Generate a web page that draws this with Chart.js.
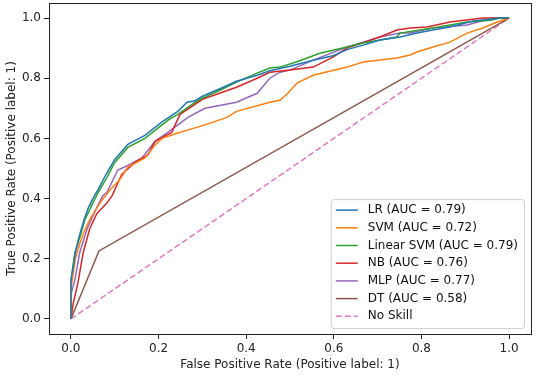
<!DOCTYPE html>
<html>
<head>
<meta charset="utf-8">
<script src="https://cdn.jsdelivr.net/npm/chart.js@4.4.1/dist/chart.umd.min.js"></script>
<style>
  html, body { margin: 0; padding: 0; background: #fff; }
  canvas { display: block; }
</style>
</head>
<body>
<canvas id="roc" width="540" height="377"></canvas>
<script>
// ROC curves (fpr, tpr)
const lrFpr = [0, 0, 0.005, 0.01, 0.02, 0.03, 0.04, 0.05, 0.062, 0.08, 0.10, 0.13, 0.169, 0.208, 0.244, 0.265, 0.283, 0.30, 0.34, 0.378, 0.425, 0.454, 0.50, 0.553, 0.598, 0.63, 0.667, 0.705, 0.751, 0.79, 0.826, 0.865, 0.918, 0.95, 0.98, 1];
const lrTpr = [0, 0.13, 0.17, 0.22, 0.28, 0.33, 0.37, 0.40, 0.43, 0.48, 0.53, 0.58, 0.61, 0.655, 0.69, 0.72, 0.725, 0.74, 0.765, 0.79, 0.81, 0.825, 0.84, 0.86, 0.875, 0.895, 0.91, 0.927, 0.937, 0.95, 0.96, 0.97, 0.99, 0.995, 1, 1];

const svmFpr = [0, 0, 0.005, 0.01, 0.02, 0.03, 0.043, 0.066, 0.09, 0.11, 0.13, 0.169, 0.192, 0.208, 0.244, 0.283, 0.306, 0.356, 0.378, 0.454, 0.477, 0.495, 0.516, 0.553, 0.63, 0.667, 0.744, 0.774, 0.79, 0.826, 0.865, 0.904, 0.94, 0.973, 1];
const svmTpr = [0, 0.10, 0.15, 0.20, 0.25, 0.29, 0.33, 0.385, 0.43, 0.46, 0.505, 0.535, 0.578, 0.60, 0.618, 0.635, 0.645, 0.67, 0.69, 0.72, 0.727, 0.75, 0.784, 0.81, 0.837, 0.854, 0.867, 0.877, 0.887, 0.904, 0.92, 0.95, 0.967, 0.987, 1];

const linSvmFpr = [0, 0, 0.005, 0.009, 0.02, 0.032, 0.05, 0.062, 0.082, 0.10, 0.13, 0.169, 0.208, 0.226, 0.244, 0.283, 0.30, 0.34, 0.378, 0.425, 0.454, 0.477, 0.516, 0.568, 0.63, 0.667, 0.744, 0.751, 0.826, 0.904, 0.957, 0.98, 1];
const linSvmTpr = [0, 0.12, 0.18, 0.22, 0.27, 0.33, 0.385, 0.42, 0.47, 0.52, 0.57, 0.60, 0.645, 0.665, 0.68, 0.72, 0.734, 0.76, 0.787, 0.817, 0.834, 0.837, 0.855, 0.883, 0.904, 0.917, 0.937, 0.95, 0.967, 0.987, 0.993, 1, 1];

const nbFpr = [0, 0.005, 0.016, 0.028, 0.043, 0.059, 0.082, 0.094, 0.116, 0.146, 0.176, 0.192, 0.23, 0.249, 0.30, 0.378, 0.425, 0.454, 0.50, 0.553, 0.598, 0.63, 0.705, 0.744, 0.774, 0.813, 0.865, 0.94, 1];
const nbTpr = [0, 0.05, 0.12, 0.22, 0.30, 0.35, 0.385, 0.41, 0.48, 0.52, 0.545, 0.59, 0.62, 0.68, 0.73, 0.77, 0.80, 0.82, 0.827, 0.837, 0.87, 0.90, 0.937, 0.96, 0.967, 0.97, 0.987, 1, 1];

const mlpFpr = [0, 0, 0.009, 0.02, 0.037, 0.059, 0.073, 0.082, 0.107, 0.13, 0.162, 0.192, 0.221, 0.267, 0.306, 0.378, 0.425, 0.454, 0.477, 0.50, 0.553, 0.63, 0.667, 0.705, 0.751, 0.774, 0.826, 0.904, 0.963, 1];
const mlpTpr = [0, 0.08, 0.13, 0.22, 0.30, 0.37, 0.41, 0.42, 0.495, 0.51, 0.535, 0.59, 0.62, 0.67, 0.70, 0.72, 0.75, 0.80, 0.82, 0.827, 0.86, 0.904, 0.92, 0.937, 0.95, 0.95, 0.967, 0.977, 1, 1];

const dtFpr = [0, 0.064, 1];
const dtTpr = [0, 0.226, 1];

const skillFpr = [0, 1];
const skillTpr = [0, 1];

const seriesLabels = ['LR (AUC = 0.79)', 'SVM (AUC = 0.72)', 'Linear SVM (AUC = 0.79)', 'NB (AUC = 0.76)', 'MLP (AUC = 0.77)', 'DT (AUC = 0.58)', 'No Skill'];
const tickValues = [0, 0.2, 0.4, 0.6, 0.8, 1.0];

const FONT = 'DejaVu Sans';
const FONT_SIZE = 12;
const toPoints = (xs, ys) => xs.map((x, i) => ({ x, y: ys[i] }));

function line(label, xs, ys, color, dash) {
  return {
    label,
    data: toPoints(xs, ys),
    showLine: true,
    borderColor: color,
    backgroundColor: color,
    borderWidth: 1.5,
    borderDash: dash || [],
    pointRadius: 0,
    tension: 0
  };
}

// frame around the plot + matplotlib style legend box
const framePlugin = {
  id: 'frame',
  afterDraw(chart) {
    const { ctx, chartArea: a } = chart;
    ctx.save();
    ctx.strokeStyle = '#222';
    ctx.lineWidth = 1;
    ctx.strokeRect(Math.round(a.left) + 0.5, Math.round(a.top) + 0.5, Math.round(a.right - a.left), Math.round(a.bottom - a.top));

    ctx.font = `${FONT_SIZE}px "${FONT}"`;
    const sets = chart.data.datasets;
    const maxText = Math.max(...sets.map(d => ctx.measureText(d.label).width));
    const rowH = 17.7;
    const boxW = maxText + 5 + 22 + 10 + 6;
    const boxH = rowH * sets.length + 5;
    const right = a.right - 7;
    const bottom = a.bottom - 6;
    const left = right - boxW;
    const top = bottom - boxH;

    ctx.beginPath();
    ctx.roundRect(left + 0.5, top + 0.5, boxW, boxH, 3);
    ctx.fillStyle = 'rgba(255,255,255,0.8)';
    ctx.fill();
    ctx.strokeStyle = '#d0d0d0';
    ctx.stroke();

    sets.forEach((d, i) => {
      const y = top + 11 + i * rowH;
      ctx.beginPath();
      ctx.setLineDash(d.borderDash);
      ctx.strokeStyle = d.borderColor;
      ctx.lineWidth = 1.5;
      ctx.moveTo(left + 5, y);
      ctx.lineTo(left + 27, y);
      ctx.stroke();
      ctx.setLineDash([]);
      ctx.fillStyle = '#111';
      ctx.textBaseline = 'middle';
      ctx.textAlign = 'left';
      ctx.fillText(d.label, left + 37, y);
    });
    ctx.restore();
  }
};

function axisOptions(title, fixSize) {
  return {
    type: 'linear',
    min: -0.05,
    max: 1.05,
    afterBuildTicks: scale => { scale.ticks = tickValues.map(v => ({ value: v })); },
    afterFit: scale => {
      fixSize(scale);
      scale.paddingTop = 0;
      scale.paddingBottom = 0;
      scale.paddingLeft = 0;
      scale.paddingRight = 0;
    },
    ticks: {
      color: '#222',
      padding: 3,
      font: { family: FONT, size: FONT_SIZE },
      callback: v => v.toFixed(1)
    },
    grid: { drawOnChartArea: false, drawTicks: true, tickLength: 5, color: '#222' },
    border: { display: true, color: '#222' },
    title: {
      display: true,
      text: title,
      color: '#222',
      padding: { top: 5, bottom: 5 },
      font: { family: FONT, size: FONT_SIZE }
    }
  };
}

new Chart(document.getElementById('roc'), {
  type: 'scatter',
  data: {
    datasets: [
      line(seriesLabels[0], lrFpr, lrTpr, '#1f77b4'),
      line(seriesLabels[1], svmFpr, svmTpr, '#ff7f0e'),
      line(seriesLabels[2], linSvmFpr, linSvmTpr, '#2ca02c'),
      line(seriesLabels[3], nbFpr, nbTpr, '#d62728'),
      line(seriesLabels[4], mlpFpr, mlpTpr, '#9467bd'),
      line(seriesLabels[5], dtFpr, dtTpr, '#8c564b'),
      line(seriesLabels[6], skillFpr, skillTpr, '#e377c2', [6, 3])
    ]
  },
  options: {
    responsive: false,
    animation: false,
    devicePixelRatio: 1,
    layout: { padding: { top: 3, right: 9, left: 0, bottom: 0 } },
    plugins: {
      legend: { display: false },
      tooltip: { enabled: false }
    },
    scales: {
      x: axisOptions('False Positive Rate (Positive label: 1)', s => { s.height = 43; }),
      y: axisOptions('True Positive Rate (Positive label: 1)', s => { s.width = 49; })
    }
  },
  plugins: [framePlugin]
});
</script>
</body>
</html>
